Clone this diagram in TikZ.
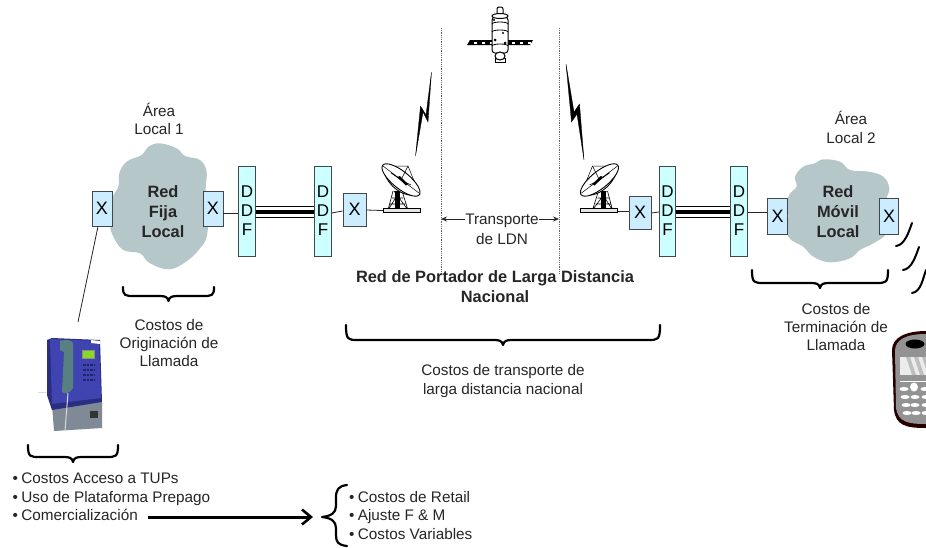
\documentclass[tikz,border=0pt]{standalone}
\usepackage{fontspec}
\setmainfont{Liberation Sans}
\usetikzlibrary{arrows.meta,calc}
\definecolor{cloudc}{HTML}{B5C7C9}
\definecolor{xc}{HTML}{CCECFF}
\definecolor{ddfc}{HTML}{CCFFFF}
\definecolor{edge}{HTML}{404848}
\definecolor{phblue}{HTML}{3F44B0}
\definecolor{phdark}{HTML}{2B2E80}
\definecolor{phgray}{HTML}{7F8A96}
\tikzset{
 lbl/.style={font=\fontsize{15.3}{18.2}\selectfont,align=center,inner sep=0pt,text=black!85},
 lbll/.style={font=\fontsize{15.3}{18}\selectfont,inner sep=0pt,text=black!85,anchor=base west},
 bld/.style={font=\fontsize{16.4}{20}\selectfont\bfseries,align=center,inner sep=0pt,text=black!85},
 xbox/.style={draw=edge,line width=.8pt,fill=xc,inner sep=0pt,font=\fontsize{18}{18}\selectfont},
 ddfbox/.style={draw=edge,line width=.8pt,fill=ddfc,inner sep=0pt,minimum width=16.5pt,minimum height=90pt,align=center,font=\fontsize{17}{19}\selectfont},
 wire/.style={line width=.8pt,draw=black!85},
 brc/.style={line width=2.2pt,draw=black,line cap=round,line join=round},
 bolt/.style={fill=black,draw=black,line width=.3pt,line join=miter},
 vdot/.style={draw=black!60,line width=.8pt,densely dotted},
}
\newcommand{\hbrc}[4]{%
 \pgfmathsetmacro{\xa}{#1}\pgfmathsetmacro{\xb}{#2}\pgfmathsetmacro{\xm}{(#1+#2)/2}%
 \pgfmathsetmacro{\yt}{#3}\pgfmathsetmacro{\yb}{#4}\pgfmathsetmacro{\ym}{#4-5}%
 \draw[brc] (\xa,\yt) .. controls (\xa,\ym) and (\xa+2,\ym) .. (\xa+12,\ym) -- (\xm-9,\ym)
   .. controls (\xm-3,\ym) and (\xm-1,\ym+1) .. (\xm,\yb) .. controls (\xm+1,\ym+1) and (\xm+3,\ym) .. (\xm+9,\ym)
   -- (\xb-12,\ym) .. controls (\xb-2,\ym) and (\xb,\ym) .. (\xb,\yt);}
\newcommand{\dishdraw}{%
 \draw[line width=.6pt] (-9,-1) -- (3,-20) (11,-1) -- (-3,-20) (-9,-1) -- (-4,-20) (11,-1) -- (5,-20) (-7,-7) -- (8,-7) (-5,-13) -- (6,-13);
 \fill[black] (-2.5,-2) rectangle (2.8,-20);
 \draw[line width=.7pt,fill=white!90!black] (-14,-3) rectangle (23,1.5);
 \draw[line width=.5pt] (-14,-45) -- (11,-45) -- (22,-18);
 \draw[line width=.9pt,fill=white] (-14,-45) .. controls (-13,-28) and (6,-11) .. (22.5,-17) -- (5,-30) -- cycle;
 \draw[line width=.9pt,fill=white] (4,-31) ellipse [x radius=23.5,y radius=8.5,rotate=-39];
 \draw[line width=.5pt] (-14,-45) -- (22,-18) (11,-45) -- (4,-31) (-6,-38) -- (4,-31) (14,-26) -- (4,-31);
 \fill[black] (0,-34) -- (9,-25.5) -- (11,-27) -- (3,-35) -- cycle;
}
\begin{document}
\begin{tikzpicture}[x=1pt,y=-1pt]
\useasboundingbox (0,0) rectangle (926,547);
\fill[white] (0,0) rectangle (926,547);

% dotted verticals
\coordinate (vlt) at (441,28); \coordinate (vlb) at (441,273);
\coordinate (vrt) at (559,28); \coordinate (vrb) at (559,273);
\draw[vdot] (vlt) -- (vlb);
\draw[vdot] (vrt) -- (vrb);

% clouds
\begin{scope}[shift={(60,80)},x=.3333pt,y=-.3333pt]
\fill[cloudc] plot[smooth cycle,tension=.65] coordinates {(300,190)(350,205)(375,228)(420,240)(440,275)(437,330)(445,400)(440,470)(420,505)(385,540)(330,568)(270,550)(240,520)(190,510)(160,470)(150,430)(155,360)(175,320)(178,280)(200,245)(245,225)(265,200)};
\end{scope}
\begin{scope}[shift={(540,60)},x=.3333pt,y=-.3333pt]
\fill[cloudc] plot[smooth cycle,tension=.65] coordinates {(850,298)(900,305)(930,330)(985,335)(1030,350)(1048,385)(1040,420)(1050,470)(1040,520)(1000,550)(960,570)(930,595)(870,607)(820,590)(790,560)(745,530)(745,470)(745,410)(770,380)(765,350)(790,320)(825,310)};
\end{scope}

% boxes
\node[xbox,minimum width=20pt,minimum height=35pt] (x1) at (102,208.5) {X};
\node[xbox,minimum width=20pt,minimum height=35pt] (x2) at (213,208.5) {X};
\node[ddfbox] (d1) at (247,211) {D\\D\\F};
\node[ddfbox] (d2) at (323,211) {D\\D\\F};
\node[xbox,minimum width=23pt,minimum height=33pt] (x3) at (354.5,209.5) {X};
\node[xbox,minimum width=22pt,minimum height=33pt] (x4) at (640,212.5) {X};
\node[ddfbox] (d3) at (667.5,211) {D\\D\\F};
\node[ddfbox] (d4) at (739,211) {D\\D\\F};
\node[xbox,minimum width=19.5pt,minimum height=36pt] (x5) at (777.5,216) {X};
\node[xbox,minimum width=19.5pt,minimum height=36pt] (x6) at (889,216) {X};

\node[bld] (rf) at (163,212) {Red\\Fija\\Local};
\node[bld] (rm) at (838,212) {Red\\Móvil\\Local};
\node[lbl] (a1) at (159,119) {Área\\Local 1};
\node[lbl] (a2) at (851,127.5) {Área\\Local 2};

% wires
\draw[wire] ([yshift=-4.5pt]x2.east) -- ([yshift=-2pt]d1.west);
\draw[wire] ([yshift=-2pt]d2.east) -- ([yshift=-1.5pt]x3.west);
\draw[wire] ([yshift=-1pt]d3.west) -- ([yshift=-.5pt]x4.east);
\draw[wire] (d4.east |- 0,212) -- (x5.west |- 0,212);
\foreach \a/\b in {d1/d2,d3/d4}{
 \draw[line width=1pt] ([yshift=4.5pt]\a.east) -- ([yshift=4.5pt]\b.west);
 \draw[line width=3.6pt] ([yshift=-1pt]\a.east) -- ([yshift=-1pt]\b.west);
 \draw[line width=1pt] ([yshift=-6pt]\a.east) -- ([yshift=-6pt]\b.west);
}

% dishes
\coordinate (dl) at (397,211);
\coordinate (dr) at (603.5,211);
\draw[wire] ([yshift=-.5pt]x3.east) -- (dl);
\draw[wire] (x4.west |- dr) -- (dr);
\begin{scope}[shift={(dl)}]\dishdraw\end{scope}
\begin{scope}[shift={(dr)},xscale=-1]\dishdraw\end{scope}

% lightning
\draw[bolt] (415.5,156) -- (420.5,106) -- (426,115) -- (431.5,72) -- (428,122) -- (423,112) -- cycle;
\draw[bolt] (566,64) -- (574,112) -- (579.5,104) -- (584,160) -- (577,114) -- (571.5,122) -- cycle;

% satellite
\fill[black] (467,45) -- (470,40) -- (533,40) -- (530,45) -- cycle;
\foreach \x in {474,482,490,512,520,528}{\fill[white] (\x,41.5) rectangle ++(2.5,2);}
\draw[line width=1pt,fill=white,rounded corners=2pt] (497,15) -- (497,7) -- (503,7) -- (503,15);
\draw[line width=1pt,fill=white] (495,58) rectangle (505,62);
\draw[line width=1pt,fill=white,rounded corners=3pt] (492,17) rectangle (508,53);
\draw[line width=1pt,fill=white] (500,16) ellipse [x radius=8,y radius=2.5];
\draw[line width=1pt,fill=white] (500,56) ellipse [x radius=5,y radius=4];
\draw[line width=.8pt] (492,24) arc[start angle=180,end angle=360,x radius=8,y radius=2];
\draw[line width=.8pt] (492,32) arc[start angle=180,end angle=360,x radius=8,y radius=2];
\draw[line width=.8pt] (492,46) arc[start angle=180,end angle=360,x radius=8,y radius=2];
\fill (494,20) circle (1.2) (503,33) circle (1.2) (495,40) circle (1.5) (505,43) circle (1.5);

% transport label
\node[lbl] (t1) at (502,221) {Transporte};
\node[lbl] (t2) at (502,239) {de LDN};
\coordinate (tl) at (441,219);
\coordinate (tr) at (559,219);
\draw[wire,-{Stealth[length=6pt,width=5pt]}] (t1.west |- tl) -- (tl);
\draw[wire,-{Stealth[length=6pt,width=5pt]}] (t1.east |- tr) -- (tr);

\node[bld] (rp) at (495,287) {Red de Portador de Larga Distancia\\Nacional};

% braces
\hbrc{123}{214}{287}{301}
\hbrc{346}{660}{325}{345}
\hbrc{752}{888}{270}{288}
\hbrc{28}{118}{445}{462}

\node[lbl] (c1) at (169,343) {Costos de\\Originación de\\Llamada};
\node[lbl] (c2) at (503,381) {Costos de transporte de\\larga distancia nacional};
\node[lbl] (c3) at (836,327) {Costos de\\Terminación de\\Llamada};

% connector from X to phone
\coordinate (pt) at (78,322);
\draw[wire] ([xshift=-4pt]x1.south) -- (pt);

% phone
\fill[phgray] (52,405) -- (102,402) -- (102,428) -- (54,431) -- cycle;
\fill[phdark] (47,340) -- (52,338) -- (100,340) -- (102,402) -- (52,410) -- (47,395) -- cycle;
\fill[phblue] (50,339) -- (99,341) -- (101,398) -- (52,404) -- cycle;
\fill[gray!70!teal] (60,341) .. controls (66,339) and (71,340) .. (73,343) -- (73,388) .. controls (70,394) and (64,394) .. (62,392) -- (64,352) -- (60,350) -- cycle;
\draw[black!45,line width=.5pt,fill=green!45!yellow!70!gray] (82,350) rectangle (94,358);
\foreach \yy in {365,370,375,380}{\draw[phdark!80!black,line width=1.6pt,dash pattern=on 2.5pt off 1pt] (83,\yy) -- (94,\yy);}
\draw[black!15,line width=1pt] (68,393) -- (65,431);
\draw[black!15,line width=1pt] (46,392) -- (38,392);
\fill[black!80] (90,411) rectangle (98,418);
\fill[white] (91,340) -- (100,341) -- (100,344) -- (91,343) -- cycle;

% radio waves
\coordinate (w1a) at (896,246); \coordinate (w1b) at (912,223);
\coordinate (w2a) at (903,270); \coordinate (w2b) at (919,247);
\coordinate (w3a) at (912,293); \coordinate (w3b) at (926,270);
\foreach \a/\b in {w1a/w1b,w2a/w2b,w3a/w3b}{
 \draw[line width=2pt,line cap=round] (\a) .. controls ($(\a)+(9,-1)$) and ($(\b)+(-3,8)$) .. (\b);
}

% mobile phone
\begin{scope}
\clip (885,325) rectangle (926,435);
\fill[black!85!red] (892,350) .. controls (892,338) and (905,331) .. (926,331) -- (940,331) -- (940,428) -- (926,428) .. controls (905,428) and (896,425) .. (894,410) -- cycle;
\fill[gray!85] (895,350) .. controls (896,340) and (905,334) .. (926,334) -- (940,334) -- (940,424) -- (926,424) .. controls (908,424) and (898,422) .. (896,408) -- cycle;
\fill[black] (915,344) ellipse [x radius=9.5,y radius=4.5];
\fill[white!85!gray] (900,357) rectangle (930,375);
\foreach \x in {906,914,922}{\fill[black!25] (\x,357) -- (\x+4,357) -- (\x+10,375) -- (\x+6,375) -- cycle;}
\fill[white] (914,387) ellipse [x radius=4,y radius=4.5];
\draw[white,line width=.8pt] (900,381) -- (926,381);
\foreach \yy/\xx in {389/904,397/905,405/906,413/907}{
 \fill[white] (\xx,\yy) ellipse [x radius=4.5,y radius=2];
}
\foreach \yy/\xx in {397/915,405/915,413/916,397/926,405/926,413/926,389/925}{
 \fill[white] (\xx,\yy) ellipse [x radius=4.5,y radius=2];
}
\end{scope}

% bottom lists
\node[lbll] (l1) at (12.5,483.5) {•\hspace{3.3pt}Costos Acceso a TUPs};
\node[lbll] (l2) at (12.5,502) {•\hspace{3.3pt}Uso de Plataforma Prepago};
\node[lbll] (l3) at (12.5,520.5) {•\hspace{3.3pt}Comercialización};
\node[lbll] (r1) at (349,502) {•\hspace{3.3pt}Costos de Retail};
\node[lbll] (r2) at (349,520.5) {•\hspace{3.3pt}Ajuste F \& M};
\node[lbll] (r3) at (349,539) {•\hspace{3.3pt}Costos Variables};
\coordinate (brtip) at (322,517);
\draw[line width=3pt,-{Straight Barb[length=9pt,width=15pt,line width=2.6pt]}] ([xshift=10pt]l3.east |- brtip) -- ([xshift=-9pt]brtip);
\draw[brc,line cap=round] (347,485) .. controls (338,486) and (336,490) .. (336,498) -- (336,506)
  .. controls (336,513) and (331,516) .. (322,517) .. controls (331,518) and (336,521) .. (336,528) -- (336,535)
  .. controls (336,542) and (338,545) .. (347,546);
\end{tikzpicture}
\end{document}
